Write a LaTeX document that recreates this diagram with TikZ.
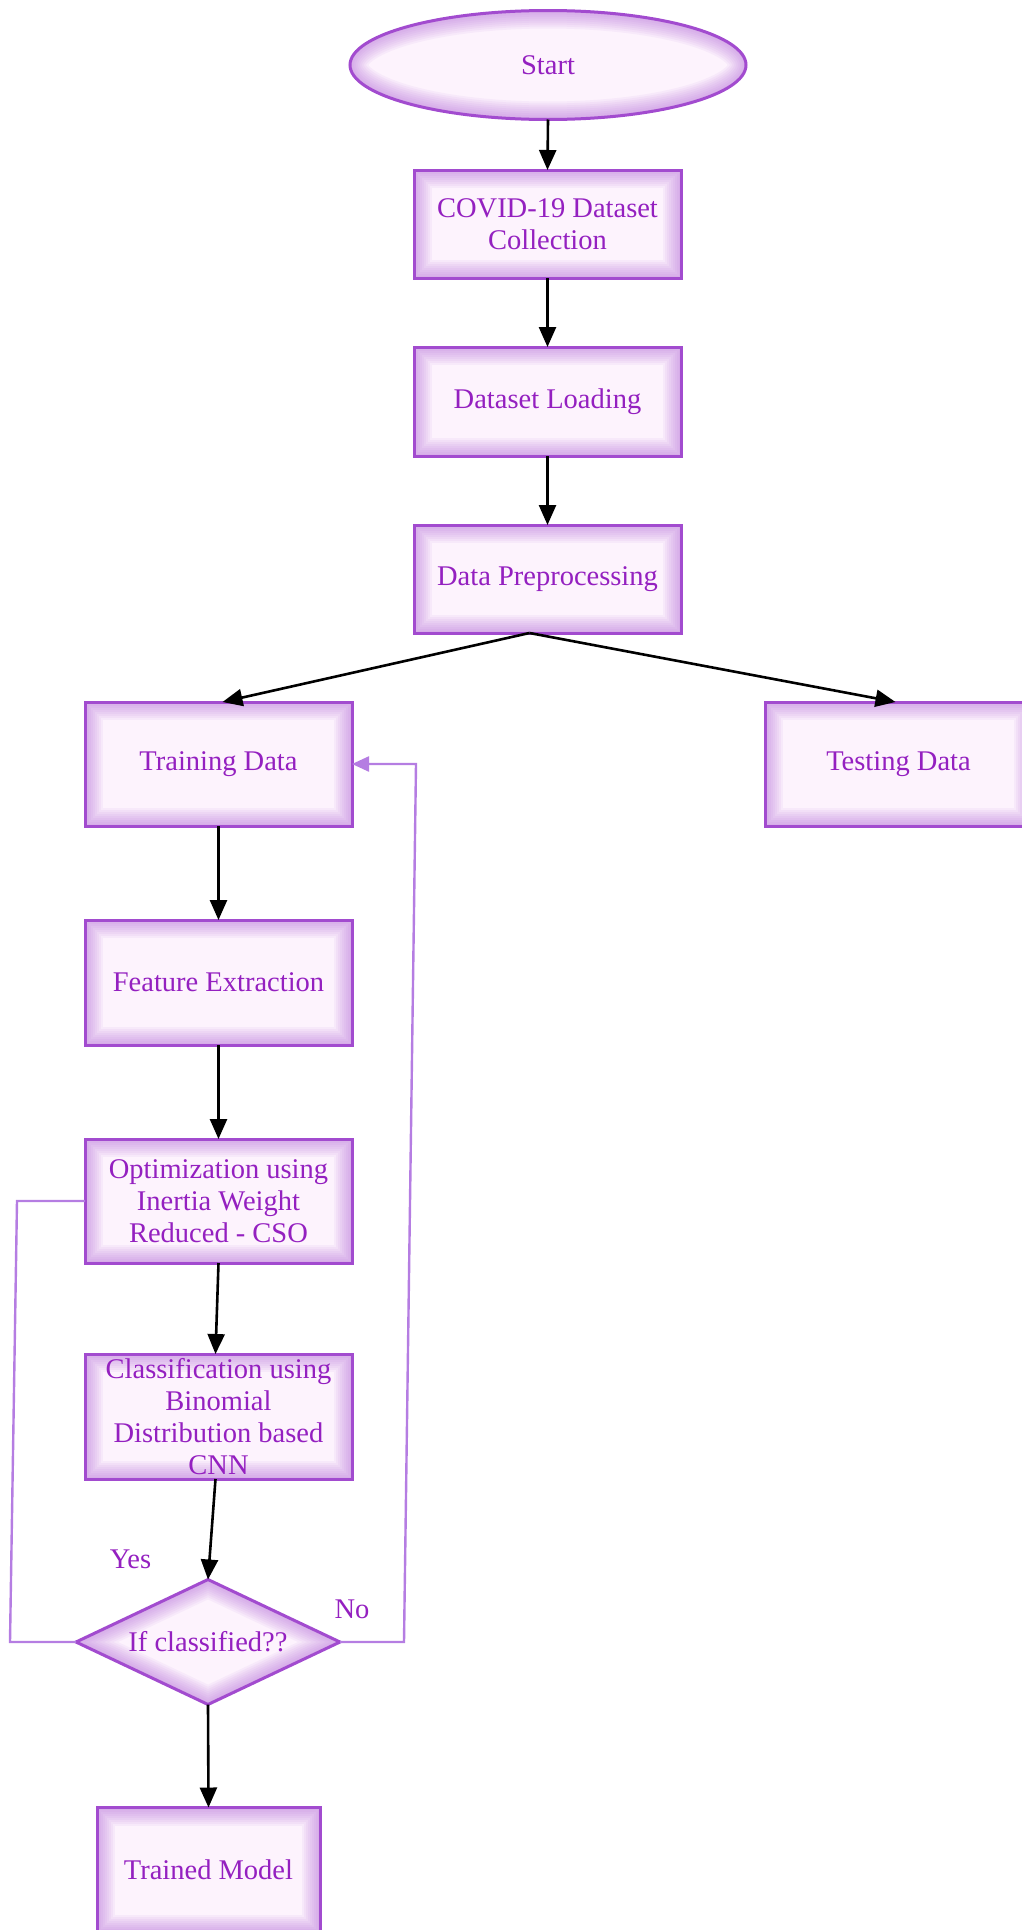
\documentclass[tikz,border=0pt]{standalone}
\usepackage{fontspec}
\setmainfont{Liberation Serif}
\usetikzlibrary{shapes.geometric,arrows.meta}
\definecolor{bordc}{HTML}{A24BCF}
\definecolor{glowc}{HTML}{B060D8}
\definecolor{fillc}{HTML}{FDF3FD}
\definecolor{txtc}{HTML}{9420C0}
\definecolor{loopc}{HTML}{B57DE2}
\tikzset{
  base/.style={draw=bordc, line width=3pt, fill=fillc, text=txtc, outer sep=0pt, inner sep=2pt,
    font=\fontsize{28.5}{32}\selectfont, align=center},
  box/.style={base, rectangle, minimum width=267pt, minimum height=#1,
    path picture={
      \foreach \w in {36,32,28,24,20,16,12,8,4}{
        \draw[glowc, line width=\w pt, opacity=0.065] (path picture bounding box.north west) rectangle (path picture bounding box.south east);
      }}},
  box/.default=124pt,
  startnode/.style={base, ellipse, minimum width=396pt, minimum height=109pt,
    path picture={
      \foreach \w in {36,32,28,24,20,16,12,8,4}{
        \draw[glowc, line width=\w pt, opacity=0.065] (path picture bounding box.center) ellipse [x radius=198pt, y radius=54.5pt];
      }}},
  decision/.style={base, diamond, aspect=2.11, inner sep=0pt, minimum width=264pt, minimum height=125pt,
    path picture={
      \foreach \w in {36,32,28,24,20,16,12,8,4}{
        \draw[glowc, line width=\w pt, opacity=0.065, line join=miter] (path picture bounding box.north) -- (path picture bounding box.east) -- (path picture bounding box.south) -- (path picture bounding box.west) -- cycle;
      }}},
  flow/.style={black, line width=2.6pt, -{Triangle[length=20pt,width=17pt]}},
  loopline/.style={loopc, line width=2.4pt},
  lbl/.style={text=txtc, font=\fontsize{28.5}{32}\selectfont, inner sep=0pt}
}
\begin{document}
\begin{tikzpicture}[x=1pt,y=-1pt]
\useasboundingbox (0,0) rectangle (1022,1930);
\node[startnode] (start) at (548,65) {Start};
\node[box=108pt] (covid) at (547.5,224) {COVID-19 Dataset\\Collection};
\node[box=109pt] (load) at (547.5,401.5) {Dataset Loading};
\node[box=108pt] (prep) at (547.5,579) {Data Preprocessing};
\node[box] (train) at (218.5,764) {Training Data};
\node[box] (test) at (898.5,764) {Testing Data};
\node[box=125pt] (feat) at (218.5,982.5) {Feature Extraction};
\node[box] (opt) at (218.5,1201) {Optimization using\\Inertia Weight\\Reduced - CSO};
\node[box=125pt] (cls) at (218.5,1416.5) {Classification using\\Binomial\\Distribution based\\CNN};
\node[decision] (dec) at (208,1642) {If classified??};
\node[box=125pt, minimum width=223pt] (model) at (208.5,1870) {Trained Model};

\node[lbl] (yes) at (130.5,1559) {Yes};
\node[lbl] (no) at (352,1609) {No};

\draw[flow] (start.south) -- (covid.north);
\draw[flow] (covid.south) -- (load.north);
\draw[flow] (load.south) -- (prep.north);
\draw[flow] ([xshift=-18pt]prep.south) -- ([xshift=4pt]train.north);
\draw[flow] ([xshift=-18pt]prep.south) -- ([xshift=-3pt]test.north);
\draw[flow] (train.south) -- (feat.north);
\draw[flow] (feat.south) -- (opt.north);
\draw[flow] (opt.south) -- ([xshift=-3pt]cls.north);
\draw[flow] ([xshift=-3pt]cls.south) -- (dec.north);
\draw[flow] (dec.south) -- (model.north);

\coordinate (l1) at (17,1201);
\coordinate (l2) at (10,1642);
\draw[loopline] (opt.west) -- (l1) -- (l2) -- (dec.west);
\coordinate (r1) at (404,1642);
\coordinate (r2) at (416,764);
\draw[loopline, -{Triangle[length=17pt,width=15pt]}] (dec.east) -- (r1) -- (r2) -- (train.east);
\end{tikzpicture}
\end{document}
